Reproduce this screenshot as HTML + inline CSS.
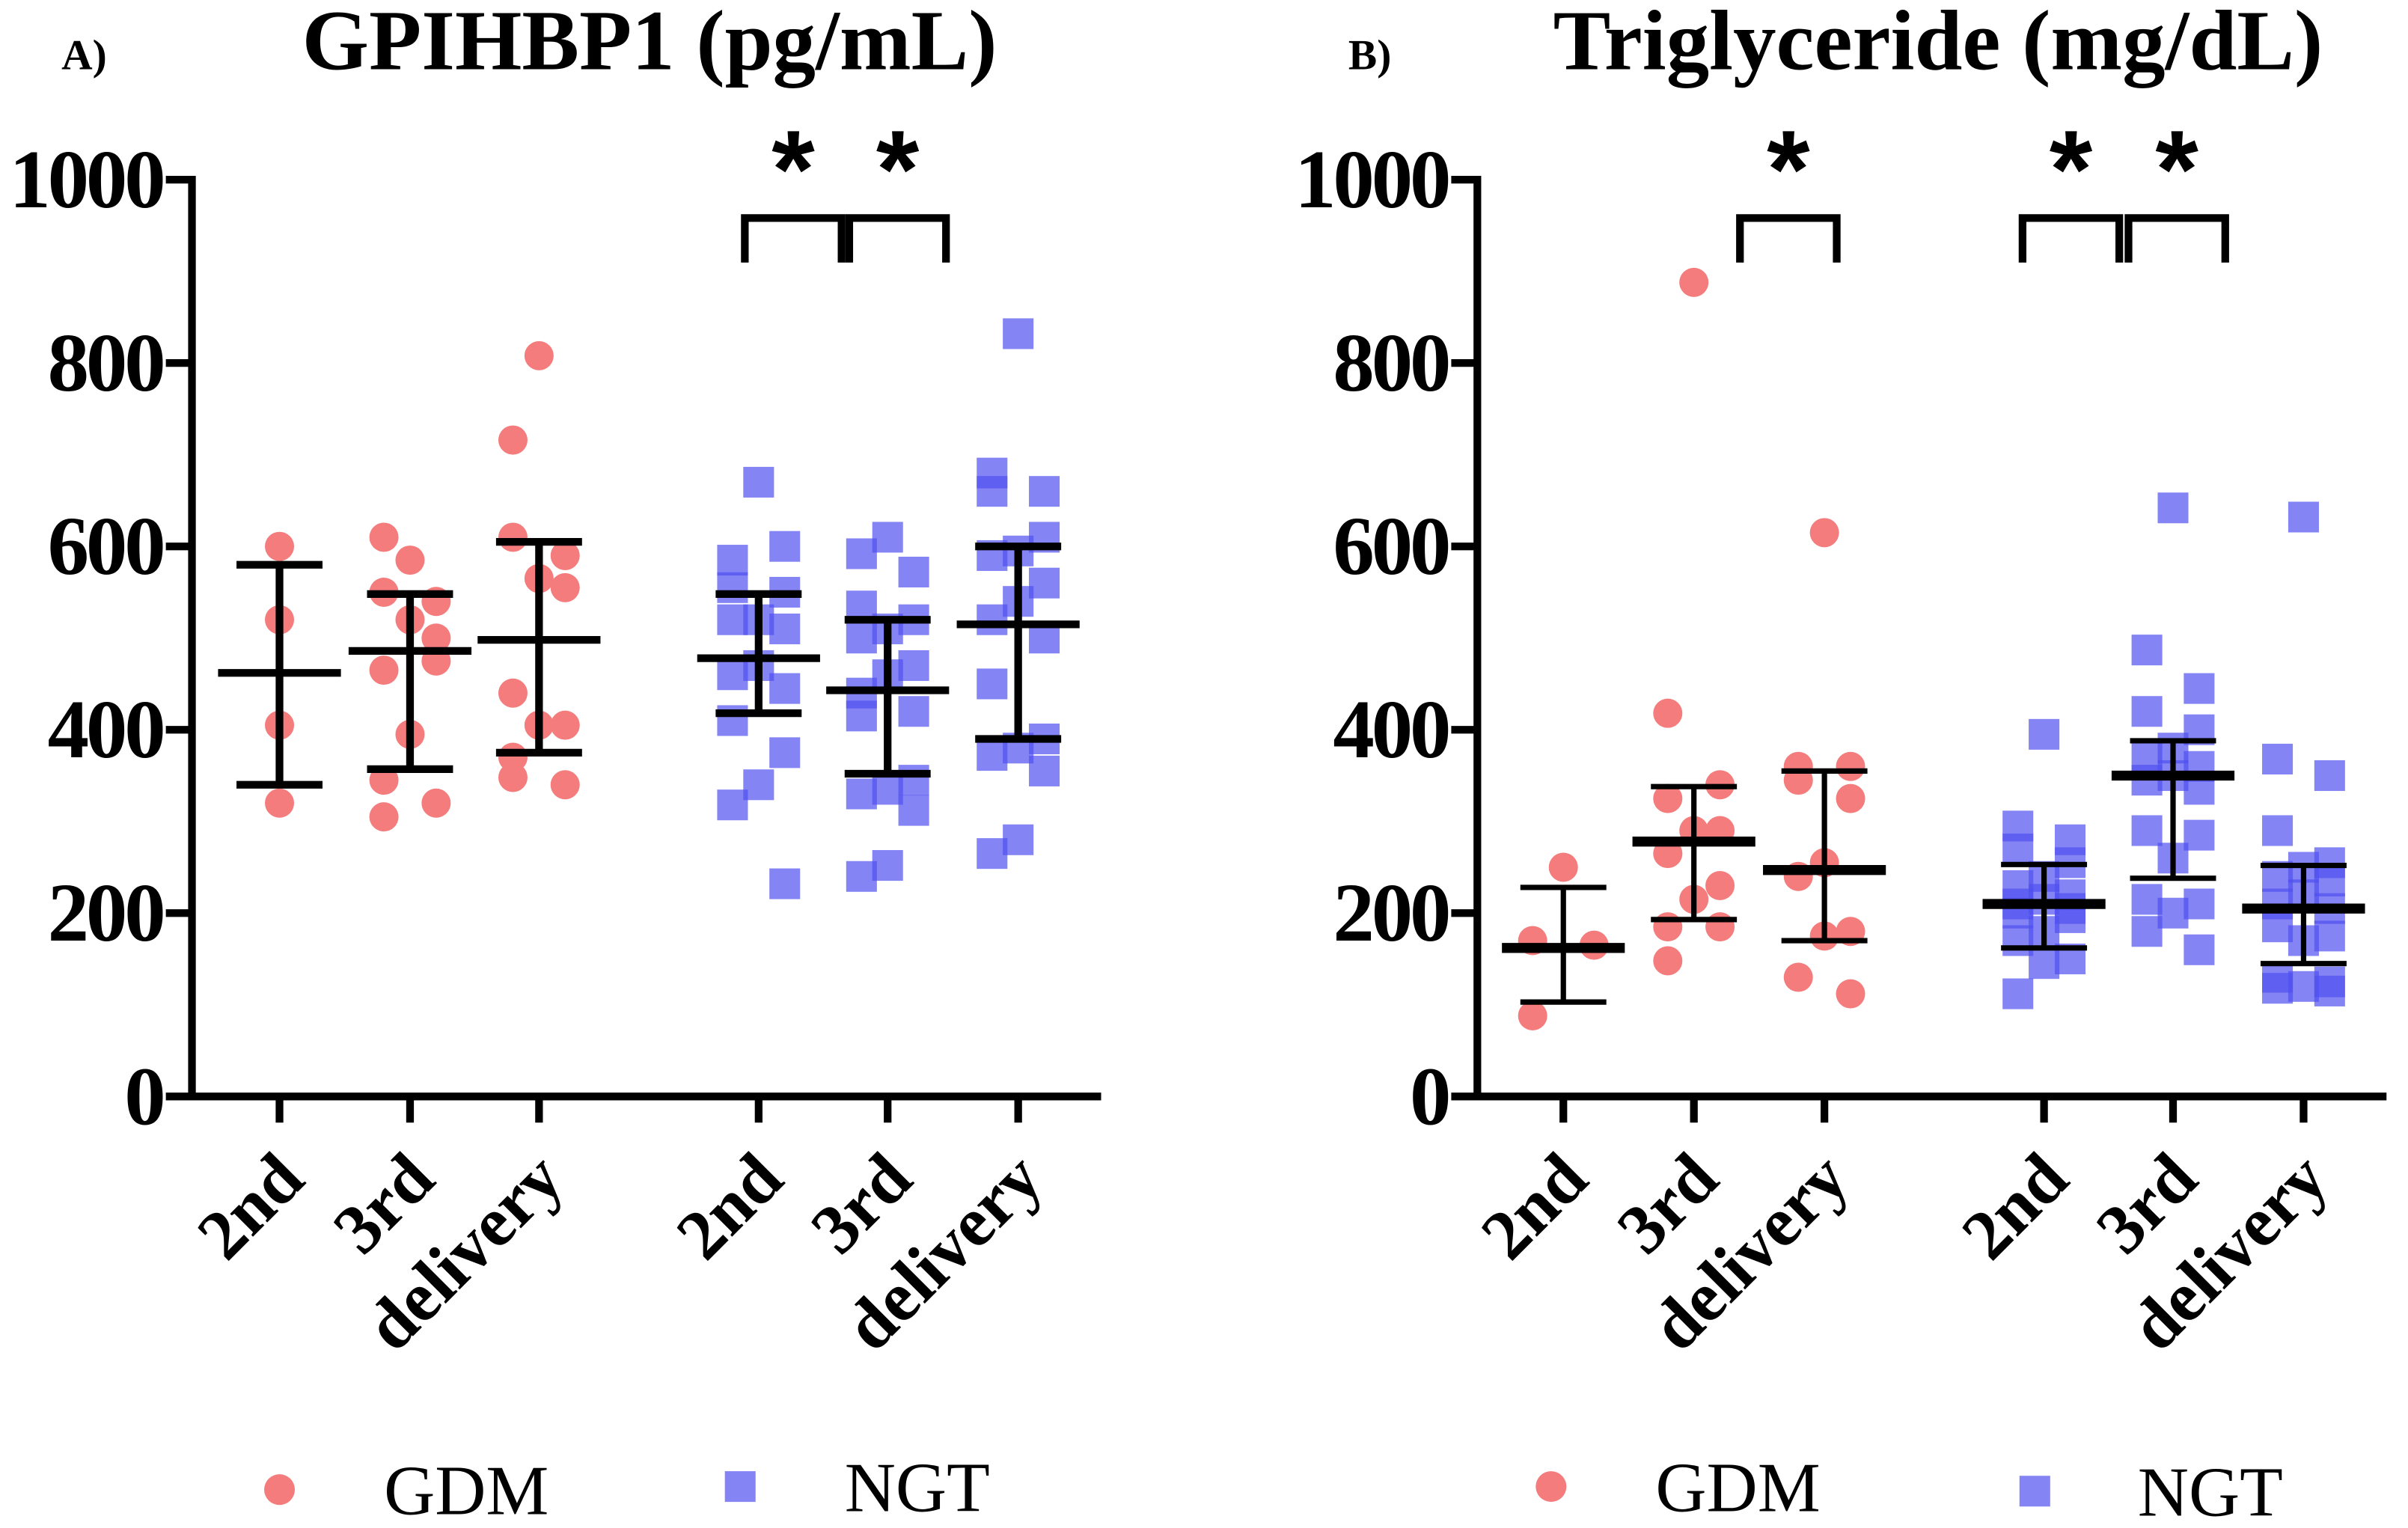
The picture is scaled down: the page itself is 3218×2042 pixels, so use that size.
<!DOCTYPE html>
<html><head><meta charset="utf-8"><style>
html,body{margin:0;padding:0;background:#fff;}
svg{display:block;font-family:"Liberation Serif",serif;}
</style></head><body>
<svg width="3218" height="2042" viewBox="0 0 1568 995" preserveAspectRatio="none">
<g id="root"></g>
</svg>
<script>
const categories=["2nd","3rd","delivery","2nd","3rd","delivery"];
const yTicks=[0,200,400,600,800,1000];
// Panel A GPIHBP1
const aGdm2=[600,520,405,320];
const aGdm3=[585,610,540,550,500,520,465,475,395,345,320,305];
const aGdmD=[808,716,590,610,555,565,440,405,405,370,340,348];
const aNgt2=[670,585,600,555,550,520,520,510,470,460,445,410,375,340,318,232];
const aNgt3=[610,592,572,535,520,510,500,470,460,440,420,415,345,335,330,312,252,240];
const aNgtD=[832,680,660,660,610,595,590,560,540,520,500,450,390,380,372,355,280,265];
const aMeans=[462,486,498,478,443,515];
const aLow=[340,357,375,418,352,390];
const aHigh=[580,548,605,548,520,600];
// Panel B Triglyceride
const bGdm2=[250,170,165,88];
const bGdm3=[888,418,340,325,290,290,265,230,215,185,185,148];
const bGdmD=[615,360,360,345,325,255,240,180,175,130,112];
const bNgt2=[395,295,280,270,255,240,230,220,215,210,205,200,195,180,170,150,145,112];
const bNgt3=[642,487,445,420,400,380,370,360,350,345,335,290,285,260,215,210,200,180,160];
const bNgtD=[632,368,350,290,255,250,240,235,220,210,205,185,175,170,130,125,120,118,115];
const bMeans=[162,278,247,210,350,205];
const bLow=[103,193,170,162,238,145];
const bHigh=[228,338,355,253,388,252];

const NS="http://www.w3.org/2000/svg";
const root=document.getElementById('root');
function mk(tag,attrs,parent){const e=document.createElementNS(NS,tag);for(const k in attrs)e.setAttribute(k,attrs[k]);(parent||root).appendChild(e);return e;}
const Y0=714,YS=0.597;
function yPos(v){return Y0-v*YS;}
const jit=[0,-1,1,-1,1,0,-1,1];

function panel(ax,catX,groups,means,low,high,title,label,titleX,labX,thick){
  const g=mk('g',{});
  
  
  groups.forEach((arr,gi)=>{
    const ngt=gi>=3;
    arr.forEach((v,i)=>{
      const off=(arr.length<=5?0:jit[i%jit.length]*17)+(arr.length<=5&&gi==0&&label=='B'&&i>0?(i%2?-20:20):0);
      const x=catX[gi]+off,y=yPos(v);
      let e;
      if(ngt){e=mk('rect',{x:x-10,y:y-10,width:20,height:20,fill:'rgba(80,80,240,0.7)'},g);}
      else{e=mk('circle',{cx:x,cy:y,r:9.5,fill:'#f47c7c'},g);}
      
      
    });
  });
  catX.forEach((cx,i)=>{
    const sw=thick?3.5:5;
    const eb=mk('g',{stroke:'#000','stroke-width':sw,fill:'none'},g);
    
    
    mk('line',{x1:cx,x2:cx,y1:yPos(low[i]),y2:yPos(high[i])},eb);
    mk('line',{x1:cx-28,x2:cx+28,y1:yPos(low[i]),y2:yPos(low[i])},eb);
    mk('line',{x1:cx-28,x2:cx+28,y1:yPos(high[i]),y2:yPos(high[i])},eb);
    const m=mk('line',{x1:cx-40,x2:cx+40,y1:yPos(means[i]),y2:yPos(means[i]),'stroke-width':thick?6.5:5},eb);
    
    
  });
  const axg=mk('g',{stroke:'#000','stroke-width':5},g);
  
  
  mk('line',{x1:ax,x2:ax,y1:yPos(1000)-2.5,y2:Y0+2.5},axg);
  mk('line',{x1:ax-2.5,x2:ax+592,y1:Y0,y2:Y0},axg);
  yTicks.forEach(t=>{
    mk('line',{x1:ax-17,x2:ax,y1:yPos(t),y2:yPos(t)},axg);
    const tx=mk('text',{x:ax-19,y:yPos(t)+18,'text-anchor':'end','font-size':54,'letter-spacing':-2,'font-weight':'bold',stroke:'none',fill:'#000'},g);
    tx.textContent=t;
    
    
  });
  catX.forEach((cx,i)=>{
    mk('line',{x1:cx,x2:cx,y1:Y0,y2:Y0+17},axg);
    const px=cx+18,py=770;
    const tx=mk('text',{x:px,y:py,'text-anchor':'end','font-size':46,'font-weight':'bold',fill:'#000',transform:`rotate(-45 ${px} ${py})`},g);
    tx.textContent=categories[i];
    
    
  });
  const t=mk('text',{x:titleX,y:45,'text-anchor':'middle','font-size':56,'font-weight':'bold'},g);
  t.textContent=title;
  
  
  const l=mk('text',{x:labX,y:45,'font-size':28,'font-weight':'bold'},g);
  l.textContent=label+')';
  
  
}
function bracket(x1,x2){
  const b=mk('path',{d:`M${x1} 171 V142 H${x2} V171`,stroke:'#000','stroke-width':5,fill:'none'});
  
  
  const s=mk('text',{x:(x1+x2)/2,y:135,'text-anchor':'middle','font-size':72,'font-weight':'bold','font-family':'"Liberation Sans",sans-serif'});
  s.textContent='*';
  
  
}
panel(125,[182,267,351,494,578,663],[aGdm2,aGdm3,aGdmD,aNgt2,aNgt3,aNgtD],aMeans,aLow,aHigh,'GPIHBP1 (pg/mL)','A',423,40,false);
panel(962,[1018,1103,1188,1331,1415,1500],[bGdm2,bGdm3,bGdmD,bNgt2,bNgt3,bNgtD],bMeans,bLow,bHigh,'Triglyceride (mg/dL)','B',1262,878,true);
bracket(485,548);bracket(553,616);
bracket(1133,1196);bracket(1317,1380);bracket(1386,1449);
function legend(x,y,sq,txt,tx){
  const g=mk('g',{});
  
  
  if(sq)mk('rect',{x:x-10,y:y-10,width:20,height:20,fill:'rgba(80,80,240,0.7)'},g);
  else mk('circle',{cx:x,cy:y,r:10,fill:'#f47c7c'},g);
  const t=mk('text',{x:tx,y:y+16,'font-size':46},g);
  t.textContent=txt;
}
legend(182,970,false,'GDM',250);
legend(482,968,true,'NGT',550);
legend(1010,968,false,'GDM',1078);
legend(1325,971,true,'NGT',1392);
</script>
</body></html>
